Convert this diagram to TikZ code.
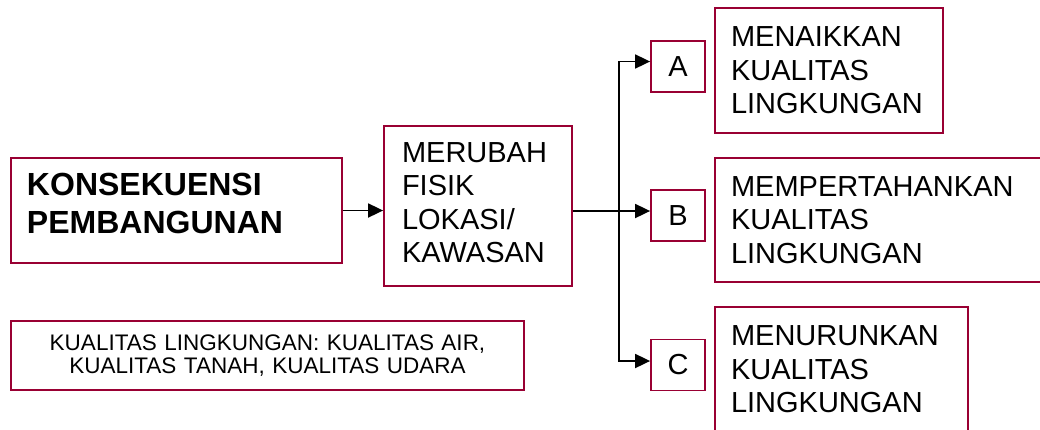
\documentclass[tikz,border=0pt]{standalone}
\usepackage{fontspec}
\setmainfont{Liberation Sans}
\usetikzlibrary{arrows.meta}
\definecolor{boxred}{RGB}{153,0,51}

\begin{document}
\begin{tikzpicture}[x=1pt,y=-1pt,line width=1.8pt,>={Triangle[length=15pt,width=14pt]}]
    \tikzstyle{box}=[rectangle,draw=boxred,inner ysep=0pt,align=left,font=\fontsize{29}{33.5}\selectfont]
    \tikzstyle{main box}=[box,inner xsep=16pt,text width=299pt,minimum height=105pt,text depth=52pt,font=\fontsize{32}{38}\selectfont\bfseries]
    \tikzstyle{letter box}=[box,inner sep=0pt,align=center,minimum width=54pt,minimum height=51pt]
    \tikzstyle{result box}=[box,inner xsep=16pt,minimum height=125pt]
    \tikzstyle{note box}=[box,align=center,text width=513pt,inner xsep=0pt,minimum height=69pt,font=\fontsize{22.5}{23.5}\selectfont]
    \def\splitx{619}

    \useasboundingbox (0,0) rectangle (1040,429);
    \clip (0,0) rectangle (1040,429);

    % Draw the left boxes
    \node[main box] (kons) at (176.5,210.5) {KONSEKUENSI\\PEMBANGUNAN};
    \node[box,inner xsep=18pt,text width=152pt,minimum height=160pt,text depth=107pt] (meru) at (478,206)
        {MERUBAH\\FISIK\\LOKASI/\\KAWASAN};
    \node[note box] (note) at (267.5,355.5)
        {KUALITAS LINGKUNGAN: KUALITAS AIR,\\KUALITAS TANAH, KUALITAS UDARA};

    % Draw the letter boxes
    \foreach \name / \y in {A/66.5,B/215.5,C/365}
        \node[letter box] (\name) at (678,\y) {\name};

    % Draw the result boxes
    \node[result box,text width=196pt] (naik) at (829,70.5) {MENAIKKAN\\KUALITAS\\LINGKUNGAN};
    \node[result box,text width=308pt,minimum height=124pt] (tahan) at (885,220) {MEMPERTAHANKAN\\KUALITAS\\LINGKUNGAN};
    \node[result box,text width=221pt] (turun) at (841.5,369.5) {MENURUNKAN\\KUALITAS\\LINGKUNGAN};

    % Connect the boxes
    \coordinate (split) at (\splitx,211);
    \draw[->] (kons.east) -- (kons.east -| meru.west);
    \draw (meru.east |- split) -- (split);
    \draw[->] (split) -- (split -| B.west);
    \draw[->] (split) |- ([yshift=5pt]A.west);
    \draw[->] (split) |- ([yshift=4pt]C.west);

\end{tikzpicture}
\end{document}
